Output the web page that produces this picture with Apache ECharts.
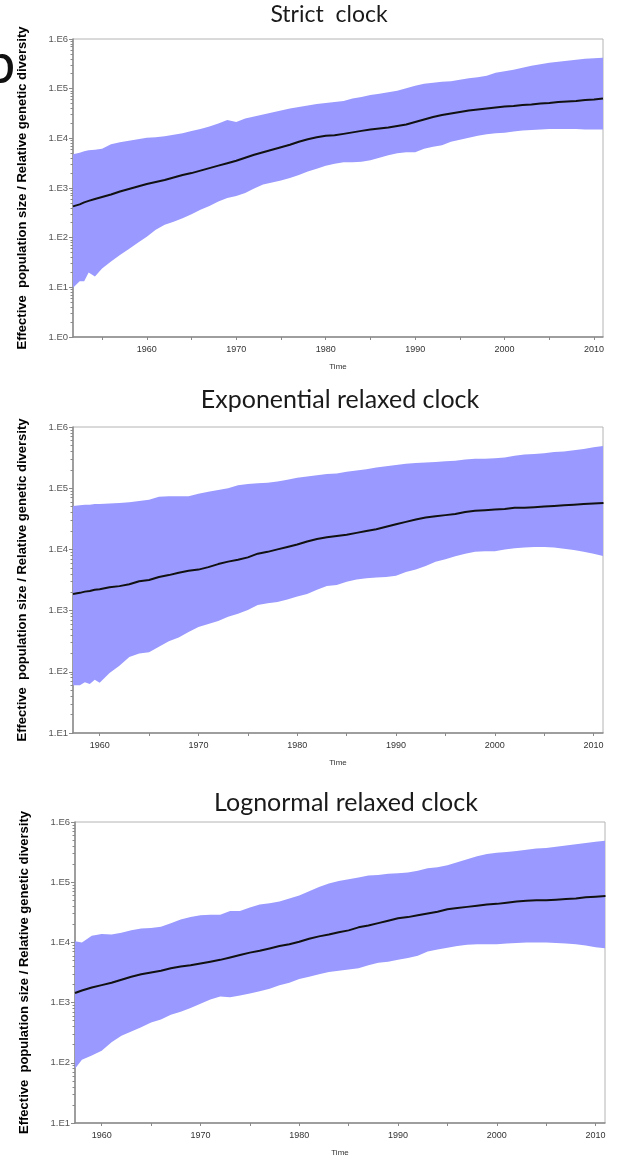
<!DOCTYPE html>
<html>
<head>
<meta charset="utf-8">
<script src="https://cdn.jsdelivr.net/npm/echarts@6/dist/echarts.min.js"></script>
<style>
  html, body { margin: 0; padding: 0; background: #fff; }
  #chart { width: 623px; height: 1162px; }
</style>
</head>
<body>
<div id="chart"></div>
<script>
// Skyline reconstructions of effective population size (log10 scale) under three clock models.
// Each panel: sample times, lower 95% HPD, median and upper 95% HPD, all as log10 values.

const titles = ['Strict  clock', 'Exponential relaxed clock', 'Lognormal relaxed clock'];

// --- Strict clock ---
const strictYears = [1951.75, 1952.5, 1953, 1953.5, 1954.2, 1955,
  1956, 1957, 1958, 1959, 1960, 1961, 1962, 1963, 1964, 1965, 1966, 1967, 1968, 1969,
  1970, 1971, 1972, 1973, 1974, 1975, 1976, 1977, 1978, 1979, 1980, 1981, 1982, 1983,
  1984, 1985, 1986, 1987, 1988, 1989, 1990, 1991, 1992, 1993, 1994, 1995, 1996, 1997,
  1998, 1999, 2000, 2001, 2002, 2003, 2004, 2005, 2006, 2007, 2008, 2009, 2010, 2011];
const strictLower = [0.99, 1.12, 1.12, 1.30, 1.22, 1.38,
  1.52, 1.65, 1.77, 1.90, 2.02, 2.16, 2.26, 2.32, 2.39, 2.47, 2.56, 2.64, 2.73, 2.80,
  2.84, 2.90, 2.99, 3.07, 3.11, 3.15, 3.20, 3.26, 3.33, 3.39, 3.45, 3.49, 3.52, 3.52,
  3.53, 3.56, 3.61, 3.66, 3.70, 3.72, 3.72, 3.79, 3.83, 3.86, 3.93, 3.97, 4.01, 4.05,
  4.08, 4.10, 4.11, 4.14, 4.16, 4.17, 4.18, 4.19, 4.19, 4.19, 4.19, 4.18, 4.18, 4.18];
const strictMedian = [2.63, 2.67, 2.71, 2.74, 2.78, 2.82,
  2.87, 2.93, 2.98, 3.03, 3.08, 3.12, 3.16, 3.21, 3.26, 3.30, 3.35, 3.40, 3.45, 3.50,
  3.55, 3.61, 3.67, 3.72, 3.77, 3.82, 3.87, 3.93, 3.98, 4.02, 4.05, 4.06, 4.09, 4.12,
  4.15, 4.18, 4.20, 4.22, 4.25, 4.28, 4.33, 4.38, 4.43, 4.47, 4.50, 4.53, 4.56, 4.58,
  4.60, 4.62, 4.64, 4.65, 4.67, 4.68, 4.70, 4.71, 4.73, 4.74, 4.75, 4.77, 4.78, 4.80];
const strictUpper = [3.68, 3.71, 3.74, 3.76, 3.77, 3.79,
  3.88, 3.92, 3.95, 3.98, 4.01, 4.02, 4.04, 4.07, 4.10, 4.15, 4.19, 4.24, 4.30, 4.37,
  4.33, 4.40, 4.44, 4.48, 4.52, 4.56, 4.60, 4.63, 4.66, 4.69, 4.71, 4.73, 4.75, 4.80,
  4.83, 4.87, 4.90, 4.93, 4.96, 5.01, 5.06, 5.10, 5.12, 5.14, 5.15, 5.18, 5.21, 5.23,
  5.26, 5.32, 5.35, 5.38, 5.42, 5.46, 5.49, 5.52, 5.54, 5.56, 5.58, 5.60, 5.61, 5.62];

// --- Exponential relaxed clock ---
const expYears = [1957.3, 1958, 1958.5, 1959, 1959.5, 1960,
  1961, 1962, 1963, 1964, 1965, 1966, 1967, 1968, 1969,
  1970, 1971, 1972, 1973, 1974, 1975, 1976, 1977, 1978, 1979,
  1980, 1981, 1982, 1983, 1984, 1985, 1986, 1987, 1988, 1989,
  1990, 1991, 1992, 1993, 1994, 1995, 1996, 1997, 1998, 1999,
  2000, 2001, 2002, 2003, 2004, 2005, 2006, 2007, 2008, 2009, 2010, 2011];
const expLower = [1.78, 1.78, 1.83, 1.80, 1.87, 1.82,
  1.98, 2.10, 2.24, 2.30, 2.32, 2.41, 2.50, 2.56, 2.65,
  2.73, 2.78, 2.83, 2.90, 2.95, 3.01, 3.09, 3.12, 3.14, 3.18,
  3.23, 3.27, 3.34, 3.40, 3.42, 3.47, 3.51, 3.53, 3.54, 3.55,
  3.57, 3.63, 3.67, 3.73, 3.80, 3.84, 3.89, 3.93, 3.96, 3.97,
  3.97, 4.00, 4.02, 4.03, 4.04, 4.04, 4.03, 4.01, 3.99, 3.96, 3.93, 3.89];
const expMedian = [3.27, 3.29, 3.31, 3.32, 3.34, 3.35,
  3.38, 3.40, 3.43, 3.48, 3.50, 3.55, 3.58, 3.62, 3.65,
  3.67, 3.71, 3.76, 3.80, 3.83, 3.87, 3.93, 3.96, 4.00, 4.04,
  4.08, 4.13, 4.17, 4.20, 4.22, 4.24, 4.27, 4.30, 4.33, 4.37,
  4.41, 4.45, 4.49, 4.52, 4.54, 4.56, 4.58, 4.61, 4.63, 4.64,
  4.65, 4.66, 4.68, 4.68, 4.69, 4.70, 4.71, 4.72, 4.73, 4.74, 4.75, 4.76];
const expUpper = [4.71, 4.72, 4.73, 4.73, 4.74, 4.74,
  4.75, 4.76, 4.77, 4.79, 4.81, 4.86, 4.87, 4.87, 4.87,
  4.91, 4.94, 4.97, 5.00, 5.05, 5.07, 5.08, 5.09, 5.11, 5.14,
  5.17, 5.19, 5.21, 5.23, 5.24, 5.27, 5.29, 5.31, 5.34, 5.36,
  5.38, 5.40, 5.41, 5.42, 5.43, 5.44, 5.45, 5.47, 5.48, 5.48,
  5.49, 5.50, 5.53, 5.55, 5.56, 5.57, 5.59, 5.60, 5.62, 5.64, 5.67, 5.69];

// --- Lognormal relaxed clock ---
const lognYears = [1957.3, 1958, 1959,
  1960, 1961, 1962, 1963, 1964, 1965, 1966, 1967, 1968, 1969,
  1970, 1971, 1972, 1973, 1974, 1975, 1976, 1977, 1978, 1979,
  1980, 1981, 1982, 1983, 1984, 1985, 1986, 1987, 1988, 1989,
  1990, 1991, 1992, 1993, 1994, 1995, 1996, 1997, 1998, 1999,
  2000, 2001, 2002, 2003, 2004, 2005, 2006, 2007, 2008, 2009, 2010, 2011];
const lognLower = [1.90, 2.05, 2.12,
  2.20, 2.34, 2.45, 2.52, 2.59, 2.67, 2.72, 2.80, 2.85, 2.91,
  2.98, 3.05, 3.10, 3.09, 3.12, 3.15, 3.19, 3.23, 3.29, 3.33,
  3.39, 3.43, 3.47, 3.51, 3.53, 3.55, 3.57, 3.62, 3.66, 3.68,
  3.71, 3.74, 3.78, 3.85, 3.88, 3.91, 3.94, 3.96, 3.97, 3.97,
  3.97, 3.98, 3.99, 4.00, 4.00, 4.00, 3.99, 3.98, 3.97, 3.95, 3.92, 3.90];
const lognMedian = [3.16, 3.20, 3.25,
  3.29, 3.33, 3.38, 3.43, 3.47, 3.50, 3.53, 3.57, 3.60, 3.62,
  3.65, 3.68, 3.71, 3.75, 3.79, 3.83, 3.86, 3.90, 3.94, 3.97,
  4.01, 4.06, 4.10, 4.13, 4.17, 4.20, 4.25, 4.28, 4.32, 4.36,
  4.40, 4.42, 4.45, 4.48, 4.51, 4.55, 4.57, 4.59, 4.61, 4.63,
  4.64, 4.66, 4.68, 4.69, 4.70, 4.70, 4.71, 4.72, 4.73, 4.75, 4.76, 4.77];
const lognUpper = [4.02, 4.00, 4.11,
  4.14, 4.13, 4.16, 4.20, 4.23, 4.24, 4.26, 4.32, 4.38, 4.42,
  4.45, 4.46, 4.46, 4.52, 4.52, 4.58, 4.63, 4.65, 4.68, 4.73,
  4.78, 4.85, 4.92, 4.98, 5.02, 5.05, 5.08, 5.11, 5.12, 5.14,
  5.15, 5.16, 5.19, 5.23, 5.25, 5.28, 5.33, 5.38, 5.43, 5.47,
  5.49, 5.50, 5.52, 5.54, 5.56, 5.57, 5.59, 5.61, 5.63, 5.65, 5.67, 5.69];

// Axis tick labels
const yearLabels = [1960, 1970, 1980, 1990, 2000, 2010];
const yearTicks = [1955, 1960, 1965, 1970, 1975, 1980, 1985, 1990, 1995, 2000, 2005, 2010];
const yName = 'Effective  population size / Relative genetic diversity';

// Panel geometry and axis ranges
const panels = [
  { title: titles[0], years: strictYears, lower: strictLower, median: strictMedian, upper: strictUpper,
    xMin: 1951.75, xMax: 2011, yMin: 0, yMax: 6,
    grid: { left: 73, top: 39, width: 530, height: 298 }, titleX: 329, titleY: 15, titleSize: 23 },
  { title: titles[1], years: expYears, lower: expLower, median: expMedian, upper: expUpper,
    xMin: 1957.3, xMax: 2010.95, yMin: 1, yMax: 6,
    grid: { left: 73, top: 427, width: 530, height: 306 }, titleX: 340, titleY: 400, titleSize: 25 },
  { title: titles[2], years: lognYears, lower: lognLower, median: lognMedian, upper: lognUpper,
    xMin: 1957.3, xMax: 2010.95, yMin: 1, yMax: 6,
    grid: { left: 75, top: 822, width: 530, height: 301 }, titleX: 346, titleY: 803, titleSize: 25 }
];

const AXIS = '#8a8a8a';
const BAND = '#9999ff';
const FONT = 'Liberation Sans, Arial, sans-serif';
const grids = [], xAxes = [], yAxes = [], series = [], graphics = [];

panels.forEach((p, i) => {
  grids.push(Object.assign({ show: true, borderColor: '#b4b4b4', borderWidth: 1,
    backgroundColor: 'transparent', containLabel: false }, p.grid));

  const ticks = yearTicks.filter(t => t >= p.xMin && t <= p.xMax);
  xAxes.push({
    type: 'value', gridIndex: i, min: p.xMin, max: p.xMax,
    splitLine: { show: false },
    axisLine: { lineStyle: { color: AXIS, width: 1.5 } },
    axisTick: { customValues: ticks, length: 3, lineStyle: { color: AXIS } },
    axisLabel: { customValues: yearLabels, formatter: v => String(v), fontSize: 9, color: '#333',
      fontFamily: FONT, margin: 8 },
    name: 'Time', nameLocation: 'middle', nameGap: 26,
    nameTextStyle: { fontSize: 8, color: '#333', fontFamily: FONT }
  });

  // decade ticks with labels
  yAxes.push({
    type: 'value', gridIndex: i, position: 'left', min: p.yMin, max: p.yMax, interval: 1,
    splitLine: { show: false },
    axisLine: { lineStyle: { color: AXIS, width: 1.5 } },
    axisTick: { length: 4, lineStyle: { color: AXIS } },
    axisLabel: { formatter: v => '1.E' + v, fontSize: 9.5, color: '#555', margin: 5, fontFamily: FONT },
    name: yName, nameLocation: 'middle', nameGap: 44, nameRotate: 90,
    nameTextStyle: { fontSize: 13, fontWeight: 'bold', color: '#000', fontFamily: FONT }
  });
  // logarithmic minor ticks (2..9 within each decade)
  const minor = [];
  for (let d = p.yMin; d < p.yMax; d++) {
    for (let k = 2; k <= 9; k++) minor.push(d + Math.log10(k));
  }
  yAxes.push({
    type: 'value', gridIndex: i, position: 'left', offset: 0, min: p.yMin, max: p.yMax,
    splitLine: { show: false },
    axisLine: { show: false },
    axisTick: { customValues: minor, length: 2.5, lineStyle: { color: AXIS } },
    axisLabel: { show: false }
  });

  const yIdx = i * 2;
  // 95% HPD band as one polygon: upper edge left to right, lower edge back
  series.push({
    type: 'custom', xAxisIndex: i, yAxisIndex: yIdx, silent: true, clip: true,
    data: p.years.map((y, j) => [y, p.lower[j], p.upper[j]]),
    encode: { x: 0, y: [1, 2] },
    renderItem: (params, api) => {
      if (params.dataIndex !== 0) return null;
      const pts = [];
      for (let j = 0; j < p.years.length; j++) pts.push(api.coord([p.years[j], p.upper[j]]));
      for (let j = p.years.length - 1; j >= 0; j--) pts.push(api.coord([p.years[j], p.lower[j]]));
      return { type: 'polygon', shape: { points: pts }, style: { fill: BAND } };
    }
  });
  series.push({
    type: 'line', xAxisIndex: i, yAxisIndex: yIdx,
    data: p.years.map((y, j) => [y, p.median[j]]), symbol: 'none', silent: true,
    lineStyle: { color: '#111', width: 2 }
  });

  graphics.push({
    type: 'text', x: p.titleX, y: p.titleY,
    style: { text: p.title, fill: '#1a1a1a', font: p.titleSize + 'px Lato, "Open Sans", sans-serif',
      align: 'center', verticalAlign: 'middle' }
  });
});

// panel letter at the top-left edge
graphics.push({
  type: 'text', x: -16, y: 37,
  style: { text: 'b', fill: '#111', font: '56px Lato, sans-serif', align: 'left', verticalAlign: 'top' }
});

const chart = echarts.init(document.getElementById('chart'), null, { renderer: 'canvas' });
chart.setOption({
  animation: false,
  backgroundColor: '#fff',
  grid: grids,
  xAxis: xAxes,
  yAxis: yAxes,
  series: series,
  graphic: graphics
});
</script>
</body>
</html>
